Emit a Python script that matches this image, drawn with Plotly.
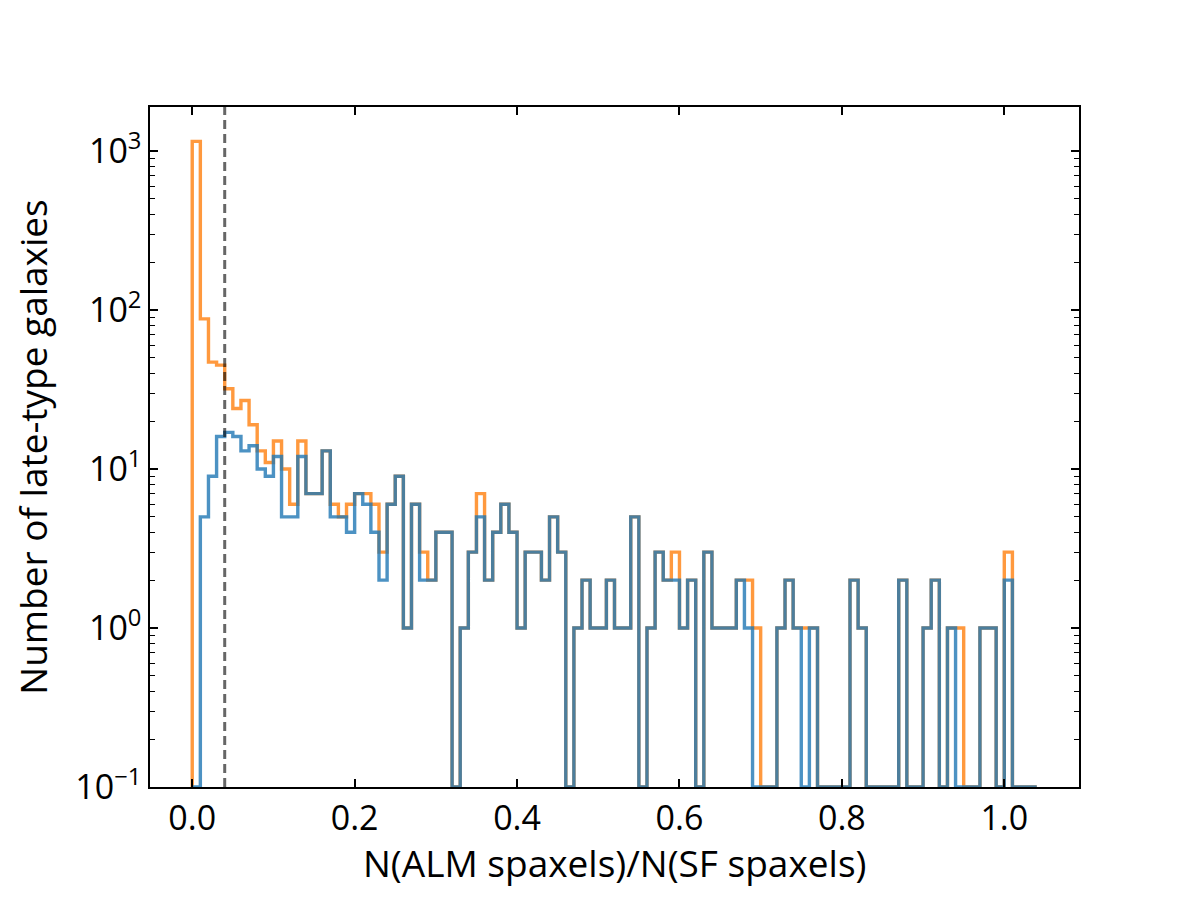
import numpy as np
import plotly.graph_objects as go

# ---------------- data ----------------
# histogram bins: width 0.01 from 0.00 to 1.04
bin_edges = [i / 100 for i in range(105)]

# all late-type galaxies (orange)
counts_all = [
    1150, 88, 47, 45, 32, 24, 27, 19, 13, 11,
    15, 10, 6, 15, 7, 7, 13, 6, 5, 6,
    7, 7, 6, 3, 6, 9, 1, 6, 3, 2,
    4, 4, 0, 1, 3, 7, 2, 4, 6, 4,
    1, 3, 3, 2, 5, 3, 0, 1, 2, 1,
    1, 2, 1, 1, 5, 0, 1, 3, 2, 3,
    1, 2, 0, 3, 1, 1, 1, 2, 2, 1,
    0, 0, 1, 2, 1, 1, 1, 0, 0, 0,
    0, 2, 1, 0, 0, 0, 0, 2, 0, 0,
    1, 2, 0, 1, 1, 0, 0, 1, 1, 0,
    3, 0, 0, 0,
]

# subset (blue)
counts_sub = [
    0, 5, 9, 16, 17, 16, 13, 14, 10, 9,
    12, 5, 5, 12, 7, 7, 13, 5, 5, 4,
    7, 6, 4, 2, 6, 9, 1, 6, 2, 2,
    4, 4, 0, 1, 3, 5, 2, 4, 6, 4,
    1, 3, 3, 2, 5, 3, 0, 1, 2, 1,
    1, 2, 1, 1, 5, 0, 1, 3, 2, 2,
    1, 2, 0, 3, 1, 1, 1, 2, 1, 0,
    0, 0, 1, 2, 1, 0, 1, 0, 0, 0,
    0, 2, 1, 0, 0, 0, 0, 2, 0, 0,
    1, 2, 0, 1, 0, 0, 0, 1, 1, 0,
    2, 0, 0, 0,
]

threshold = 0.04

x_ticks = [0.0, 0.2, 0.4, 0.6, 0.8, 1.0]
x_ticklabels = ["0.0", "0.2", "0.4", "0.6", "0.8", "1.0"]
y_ticks = [0.1, 1, 10, 100, 1000]
y_ticklabels = ["10<sup>\u22121</sup>", "10<sup>0</sup>", "10<sup>1</sup>",
                "10<sup>2</sup>", "10<sup>3</sup>"]

x_label = "N(ALM spaxels)/N(SF spaxels)"
y_label = "Number of late-type galaxies"

# ---------------- figure ----------------
Y_BOTTOM = 0.1
Y_LOG_RANGE = [-1, 3.277]
FONT = "Open Sans"


def step_xy(edges, counts):
    """Build matplotlib-like step outline (hv) from bin edges and counts."""
    c = [v if v > 0 else Y_BOTTOM for v in counts]
    xs = [edges[0]] + list(edges)
    ys = [Y_BOTTOM] + c + [Y_BOTTOM]
    return xs, ys


fig = go.Figure()

xs, ys = step_xy(bin_edges, counts_all)
fig.add_trace(go.Scatter(x=xs, y=ys, mode="lines", line_shape="hv",
                         line=dict(color="rgba(255,127,14,0.8)", width=3.4),
                         hoverinfo="skip"))
xs, ys = step_xy(bin_edges, counts_sub)
fig.add_trace(go.Scatter(x=xs, y=ys, mode="lines", line_shape="hv",
                         line=dict(color="rgba(31,119,180,0.8)", width=3.4),
                         hoverinfo="skip"))

fig.add_shape(type="line", xref="x", yref="paper", x0=threshold, x1=threshold,
              y0=0, y1=1, line=dict(color="rgba(0,0,0,0.6)", width=3, dash="9px,5px"))

minor_vals = [m * 10 ** k for k in range(-1, 4) for m in range(2, 10)]

fig.update_layout(
    width=1200, height=900, autosize=False,
    margin=dict(l=150, r=121, t=107, b=113),
    paper_bgcolor="white", plot_bgcolor="white",
    font=dict(family=FONT, size=34, color="black"),
    showlegend=False,
)

# x-axis title placed as a paper annotation for precise vertical placement
fig.add_annotation(
    text=x_label, xref="paper", yref="paper", x=0.5, y=0,
    xanchor="center", yanchor="middle", yshift=-75, showarrow=False,
    font=dict(family=FONT, size=37, color="black"),
)

fig.update_xaxes(
    range=[-0.052, 1.092],
    tickvals=x_ticks, ticktext=x_ticklabels,
    ticks="inside", ticklen=8, tickwidth=1.5, tickcolor="black",
    showline=True, linecolor="black", linewidth=1.5, mirror="allticks",
    showgrid=False, zeroline=False,
)

fig.update_yaxes(
    type="log", range=Y_LOG_RANGE,
    tickvals=y_ticks, ticktext=y_ticklabels,
    ticks="inside", ticklen=8, tickwidth=1.5, tickcolor="black",
    minor=dict(tickvals=minor_vals, ticks="inside", ticklen=5, tickwidth=1.2,
               tickcolor="black", showgrid=False),
    showline=True, linecolor="black", linewidth=1.5, mirror="allticks",
    showgrid=False, zeroline=False,
    title=dict(text=y_label, standoff=16, font=dict(family=FONT, size=37, color="black")),
)

fig.write_html("out.html")
